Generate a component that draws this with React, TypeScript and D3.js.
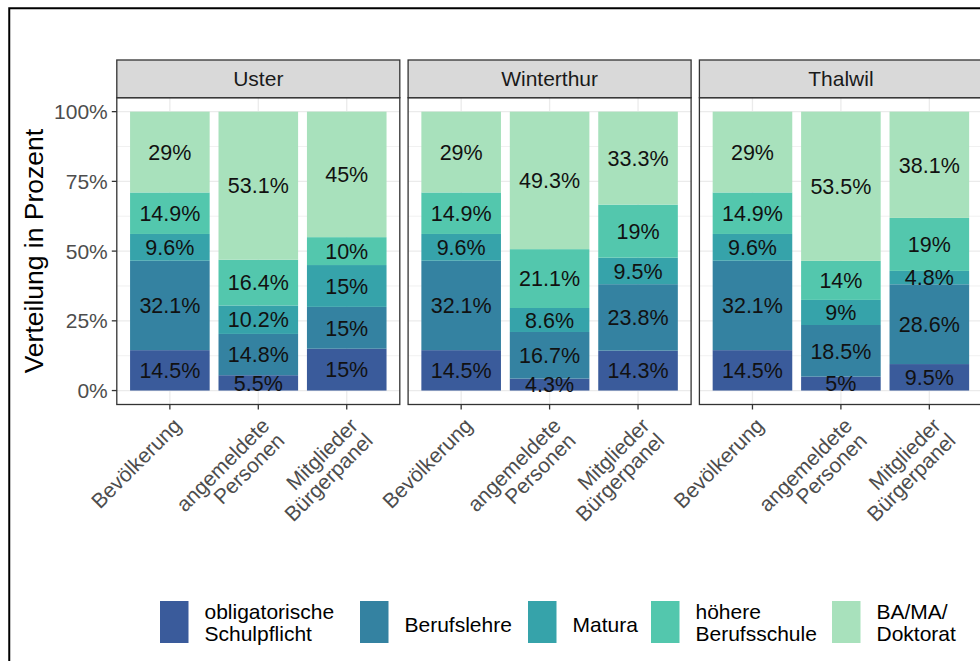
import React from "react";
import * as d3 from "d3";

const cities = ["Uster", "Winterthur", "Thalwil"];
const groupKeys = ["Bevölkerung", "angemeldete Personen", "Mitglieder Bürgerpanel"];
const groupLines = [["Bevölkerung"], ["angemeldete", "Personen"], ["Mitglieder", "Bürgerpanel"]];
const levels = ["obligatorische Schulpflicht", "Berufslehre", "Matura", "höhere Berufsschule", "BA/MA/ Doktorat"];
const levelLines = [["obligatorische", "Schulpflicht"], ["Berufslehre"], ["Matura"], ["höhere", "Berufsschule"], ["BA/MA/", "Doktorat"]];
const colors = ["#3A5B9B", "#3482A1", "#36A3AA", "#53C7AD", "#A8E1BC"];

// values per group: [obligatorische, Berufslehre, Matura, höhere, BA/MA]
const usterValues = [
  [14.5, 32.1, 9.6, 14.9, 29],
  [5.5, 14.8, 10.2, 16.4, 53.1],
  [15, 15, 15, 10, 45],
];
const winterthurValues = [
  [14.5, 32.1, 9.6, 14.9, 29],
  [4.3, 16.7, 8.6, 21.1, 49.3],
  [14.3, 23.8, 9.5, 19, 33.3],
];
const thalwilValues = [
  [14.5, 32.1, 9.6, 14.9, 29],
  [5, 18.5, 9, 14, 53.5],
  [9.5, 28.6, 4.8, 19, 38.1],
];
const cityValues = [usterValues, winterthurValues, thalwilValues];

const yTicks = [0, 0.25, 0.5, 0.75, 1];
const yTickLabels = ["0%", "25%", "50%", "75%", "100%"];
const yMinor = [0.125, 0.375, 0.625, 0.875];

const FONT = "'Liberation Sans', Arial, sans-serif";

export default function App() {
  const panelLeft0 = 116.8;
  const panelW = 283;
  const gap = 8.3;
  const stripTop = 60;
  const panelTop = 97.7;
  const panelBottom = 404.5;

  const y = d3.scaleLinear().domain([-0.05, 1.05]).range([panelBottom, panelTop]);

  const panels = cities.map((city, ci) => {
    const left = panelLeft0 + ci * (panelW + gap);
    const x = d3
      .scaleBand<string>()
      .domain(groupKeys)
      .range([left, left + panelW])
      .paddingInner(0.1)
      .paddingOuter(0.15);
    return { city, ci, left, x, values: cityValues[ci] };
  });

  return (
    <svg
      width={980}
      height={661}
      style={{ position: "absolute", left: 0, top: 0, display: "block", background: "#fff" }}
      fontFamily={FONT}
    >
      <rect x={0} y={0} width={980} height={661} fill="#fff" />
      <rect x={9.25} y={8.25} width={1100} height={800} fill="none" stroke="#000" strokeWidth={2} />

      {panels.map((p) => {
        const { left, x, values, city, ci } = p;
        return (
          <g key={city}>
            <rect x={left} y={panelTop} width={panelW} height={panelBottom - panelTop} fill="#fff" />
            {yMinor.map((t) => (
              <line key={"mi" + t} x1={left} x2={left + panelW} y1={y(t)} y2={y(t)} stroke="#EBEBEB" strokeWidth={0.7} />
            ))}
            {yTicks.map((t) => (
              <line key={"ma" + t} x1={left} x2={left + panelW} y1={y(t)} y2={y(t)} stroke="#EBEBEB" strokeWidth={1.3} />
            ))}
            {groupKeys.map((g) => {
              const cx = (x(g) as number) + x.bandwidth() / 2;
              return <line key={"v" + g} x1={cx} x2={cx} y1={panelTop} y2={panelBottom} stroke="#EBEBEB" strokeWidth={1.3} />;
            })}
            {groupKeys.map((g, gi) => {
              const vals = values[gi];
              const total = d3.sum(vals);
              const cum = d3.cumsum(vals);
              const bx = x(g) as number;
              const bw = x.bandwidth();
              return (
                <g key={"bar" + g}>
                  {vals.map((v, li) => {
                    const y0 = (cum[li] - v) / total;
                    const y1 = cum[li] / total;
                    return (
                      <rect key={li} x={bx} width={bw} y={y(y1)} height={y(y0) - y(y1)} fill={colors[li]} />
                    );
                  })}
                  {vals.map((v, li) => {
                    const ym = (cum[li] - v / 2) / total;
                    return (
                      <text
                        key={"t" + li}
                        x={bx + bw / 2}
                        y={y(ym)}
                        dy="0.36em"
                        textAnchor="middle"
                        fontSize={21.5}
                        fill="#111"
                      >
                        {`${v}%`}
                      </text>
                    );
                  })}
                </g>
              );
            })}
            <rect x={left} y={panelTop} width={panelW} height={panelBottom - panelTop} fill="none" stroke="#333" strokeWidth={1.3} />
            <rect x={left} y={stripTop} width={panelW} height={panelTop - stripTop} fill="#D9D9D9" stroke="#333" strokeWidth={1.3} />
            <text x={left + panelW / 2} y={(stripTop + panelTop) / 2} dy="0.36em" textAnchor="middle" fontSize={21} fill="#1A1A1A">
              {city}
            </text>
            {groupKeys.map((g, gi) => {
              const cx = (x(g) as number) + x.bandwidth() / 2;
              return (
                <g key={"xt" + g}>
                  <line x1={cx} x2={cx} y1={panelBottom} y2={panelBottom + 5} stroke="#333" strokeWidth={1.3} />
                  <text
                    transform={`translate(${cx + 1},${panelBottom + 11}) rotate(-45)`}
                    textAnchor="end"
                    fontSize={21}
                    fill="#4D4D4D"
                  >
                    {groupLines[gi].map((ln, k) => (
                      <tspan key={k} x={0} dy={k === 0 ? "0.78em" : "1.0em"}>
                        {ln}
                      </tspan>
                    ))}
                  </text>
                </g>
              );
            })}
            {ci === 0 &&
              yTicks.map((t, i) => (
                <g key={"yt" + t}>
                  <line x1={left - 5} x2={left} y1={y(t)} y2={y(t)} stroke="#333" strokeWidth={1.3} />
                  <text x={left - 9} y={y(t)} dy="0.36em" textAnchor="end" fontSize={21} fill="#4D4D4D">
                    {yTickLabels[i]}
                  </text>
                </g>
              ))}
          </g>
        );
      })}

      <text
        transform={`translate(43,${(panelTop + panelBottom) / 2}) rotate(-90)`}
        textAnchor="middle"
        fontSize={26.5}
        fill="#000"
      >
        Verteilung in Prozent
      </text>

      {(() => {
        const keyX = [160, 360, 528, 651, 832];
        const keyY = 601;
        const keyW = 28.5;
        const keyH = 42;
        return levels.map((lv, i) => {
          const lines = levelLines[i];
          return (
            <g key={lv}>
              <rect x={keyX[i]} y={keyY} width={keyW} height={keyH} fill={colors[i]} />
              <text x={keyX[i] + keyW + 16} y={lines.length === 1 ? 632 : 619} fontSize={21} fill="#000">
                {lines.map((ln, k) => (
                  <tspan key={k} x={keyX[i] + keyW + 16} dy={k === 0 ? 0 : 22}>
                    {ln}
                  </tspan>
                ))}
              </text>
            </g>
          );
        });
      })()}
    </svg>
  );
}
